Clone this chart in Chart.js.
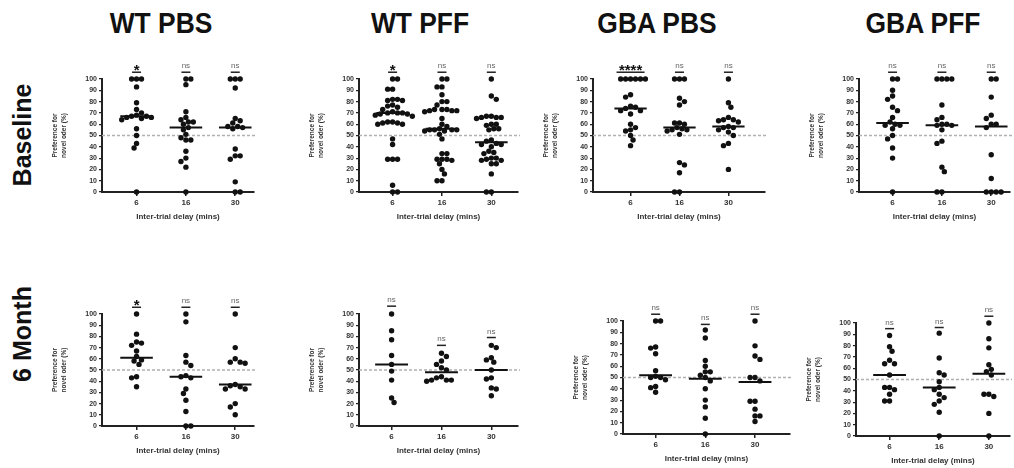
<!DOCTYPE html>
<html>
<head>
<meta charset="utf-8">
<script src="https://cdn.jsdelivr.net/npm/chart.js@4.4.1/dist/chart.umd.min.js"></script>
<style>
  body { margin: 0; background: #fff; width: 1014px; height: 468px; position: relative; overflow: hidden; font-family: 'Liberation Sans', Arial, sans-serif; }
  .col { position: absolute; top: 23px; font-weight: bold; font-size: 29px; line-height: 1; color: #111; white-space: nowrap; transform: translate(-50%, -50%) scaleX(0.91); }
  .row { position: absolute; font-weight: bold; font-size: 25px; line-height: 1; color: #111; white-space: nowrap; transform: translate(-50%, -50%) rotate(-90deg); }
  canvas { position: absolute; }
</style>
</head>
<body>
<div id="root"></div>
<script>
// categories / labels
const categories = ['6', '16', '30'];
const groups = ['WT PBS', 'WT PFF', 'GBA PBS', 'GBA PFF'];
const timepoints = ['Baseline', '6 Month'];

// Baseline values (one list per delay)
const wtPbsBase = [
  [100, 100, 100, 93, 79, 73, 70, 68, 67, 67, 66, 66, 65, 64, 56, 50, 43, 39, 0],
  [100, 100, 95, 71, 66, 64, 62, 62, 60, 57, 55, 51, 48, 46, 46, 36, 30, 27, 22, 0],
  [100, 100, 100, 92, 65, 63, 61, 58, 58, 57, 56, 38, 32, 32, 29, 9, 0, 0]
];
const wtPffBase = [
  [100, 100, 91, 91, 82, 82, 81, 81, 77, 76, 75, 73, 71, 70, 70, 70, 69, 69, 68, 67, 62, 62, 61, 61, 60, 60, 47, 42, 29, 29, 29, 6, 0, 0],
  [100, 100, 93, 93, 86, 80, 80, 77, 73, 73, 73, 72, 72, 72, 71, 65, 60, 58, 56, 55, 55, 55, 55, 54, 54, 51, 47, 34, 34, 29, 29, 29, 28, 25, 20, 16, 10, 10],
  [100, 85, 82, 67, 67, 66, 66, 66, 65, 60, 60, 59, 56, 56, 55, 46, 45, 43, 42, 42, 40, 36, 35, 34, 30, 30, 29, 28, 28, 25, 25, 16, 0, 0]
];
const gbaPbsBase = [
  [100, 100, 100, 100, 100, 100, 86, 84, 76, 75, 74, 72, 72, 69, 60, 57, 55, 54, 50, 46, 41],
  [100, 100, 100, 83, 80, 77, 61, 61, 60, 57, 56, 55, 55, 54, 51, 26, 24, 17, 0, 0],
  [100, 79, 75, 66, 64, 64, 63, 62, 58, 57, 57, 55, 53, 50, 43, 41, 20]
];
const gbaPffBase = [
  [100, 100, 90, 85, 82, 75, 72, 66, 62, 60, 59, 59, 56, 50, 47, 39, 30, 0],
  [100, 100, 100, 100, 77, 66, 64, 60, 60, 59, 59, 55, 45, 43, 22, 18, 0, 0],
  [100, 100, 84, 68, 65, 60, 60, 57, 33, 12, 0, 0, 0, 0]
];

// 6 month values
const wtPbs6m = [
  [100, 82, 75, 74, 72, 67, 62, 59, 58, 55, 44, 43, 35],
  [100, 93, 63, 57, 54, 45, 44, 43, 33, 29, 23, 13, 0, 0],
  [100, 70, 60, 57, 57, 56, 37, 36, 35, 33, 33, 20, 17, 10]
];
const wtPff6m = [
  [100, 85, 77, 63, 55, 49, 41, 25, 21],
  [65, 62, 58, 55, 52, 50, 44, 43, 41, 41, 41, 40],
  [72, 70, 61, 59, 57, 50, 43, 42, 34, 33, 27]
];
const gbaPbs6m = [
  [100, 100, 77, 76, 71, 56, 51, 50, 50, 48, 42, 41, 37],
  [92, 85, 65, 60, 55, 55, 52, 50, 47, 40, 30, 24, 14, 0],
  [100, 78, 69, 66, 50, 50, 47, 29, 29, 22, 16, 16, 11]
];
const gbaPff6m = [
  [89, 79, 75, 67, 64, 64, 54, 43, 43, 41, 37, 31, 31],
  [91, 69, 56, 54, 48, 43, 41, 37, 34, 31, 28, 21, 0],
  [100, 86, 78, 63, 59, 57, 54, 37, 37, 35, 20, 0]
];

// medians (horizontal bars)
const medians = [
  [67, 57, 57], [70, 56, 44], [74, 57, 58], [61, 59, 58],
  [61, 44, 37], [55, 48, 50], [52, 49, 46], [54, 43, 55]
];
// significance labels and the height of their bars
const sigLabels = [
  ['*', 'ns', 'ns'], ['*', 'ns', 'ns'], ['****', 'ns', 'ns'], ['ns', 'ns', 'ns'],
  ['*', 'ns', 'ns'], ['ns', 'ns', 'ns'], ['ns', 'ns', 'ns'], ['ns', 'ns', 'ns']
];
const sigLevels = [
  [106, 106, 106], [106, 106, 106], [106, 106, 106], [106, 106, 106],
  [106, 106, 106], [107, 72, 79], [106, 97, 106], [95, 96, 106]
];
const chance = 50;

const panelData = [wtPbsBase, wtPffBase, gbaPbsBase, gbaPffBase, wtPbs6m, wtPff6m, gbaPbs6m, gbaPff6m];

// where each panel's axes sit on the page
const layouts = [
  { ax: 102, c1: 137, sp: 50, end: 256, top: 79, bot: 192 },
  { ax: 359, c1: 393, sp: 50, end: 520, top: 79, bot: 192 },
  { ax: 593, c1: 631, sp: 49.5, end: 767, top: 79, bot: 192 },
  { ax: 859, c1: 893, sp: 50, end: 1012, top: 79, bot: 192 },
  { ax: 102, c1: 137, sp: 50, end: 256, top: 314, bot: 426 },
  { ax: 359, c1: 392, sp: 50.5, end: 520, top: 314, bot: 426 },
  { ax: 623, c1: 656, sp: 50.3, end: 792, top: 321, bot: 434 },
  { ax: 856, c1: 890, sp: 50.3, end: 1012, top: 323, bot: 436 }
];
const W = 52, H = 30, PT = 26, PR = 2;
const FONT = "'Liberation Sans', Arial, sans-serif";

const root = document.getElementById('root');
const colX = [161, 420, 657, 923];
groups.forEach((g, i) => {
  const d = document.createElement('div');
  d.className = 'col'; d.textContent = g; d.style.left = colX[i] + 'px';
  root.appendChild(d);
});
const rowY = [135, 334];
timepoints.forEach((t, i) => {
  const d = document.createElement('div');
  d.className = 'row'; d.textContent = t; d.style.left = '22px'; d.style.top = rowY[i] + 'px';
  root.appendChild(d);
});

// simple beeswarm so dots with similar values spread sideways
function swarm(vals, cat, pxX, pxY) {
  const dist = 5.0;
  const placed = [];
  vals.slice().sort((a, b) => b - a).forEach(v => {
    let off = null;
    for (let k = 0; k < 30 && off === null; k++) {
      let cands = k === 0 ? [0] : [k, -k];
      const left = placed.filter(p => p.off < 0).length;
      const right = placed.filter(p => p.off > 0).length;
      if (right > left) cands = cands.reverse();
      for (const c of cands) {
        const o = c * dist * 0.5;
        if (placed.every(p => Math.hypot(p.off - o, (p.v - v) * pxY) >= dist)) { off = o; break; }
      }
    }
    placed.push({ v, off });
  });
  return placed.map(p => ({ x: cat + p.off / pxX, y: p.v }));
}

const marksPlugin = {
  id: 'marks',
  beforeDatasetsDraw(chart) {
    const { ctx, chartArea, scales: { y } } = chart;
    const py = y.getPixelForValue(chance);
    ctx.save();
    ctx.strokeStyle = '#b0b0b0';
    ctx.lineWidth = 1.3;
    ctx.setLineDash([3, 2]);
    ctx.beginPath();
    ctx.moveTo(chartArea.left, py);
    ctx.lineTo(chartArea.right + 2, py);
    ctx.stroke();
    ctx.restore();
  },
  afterDatasetsDraw(chart) {
    const { ctx, scales: { x, y } } = chart;
    const idx = chart.options.plugins.marks.idx;
    ctx.save();
    sigLabels[idx].forEach((lab, i) => {
      const cx = x.getPixelForValue(i + 1);
      const by = y.getPixelForValue(sigLevels[idx][i]);
      const half = lab === '****' ? 14 : 4.5;
      ctx.strokeStyle = '#222';
      ctx.lineWidth = 1.5;
      ctx.beginPath();
      ctx.moveTo(cx - half, by);
      ctx.lineTo(cx + half, by);
      ctx.stroke();
      ctx.textAlign = 'center';
      ctx.textBaseline = 'alphabetic';
      if (lab === 'ns') {
        ctx.fillStyle = '#666';
        ctx.font = '8px ' + FONT;
        ctx.fillText(lab, cx, by - 4);
      } else {
        ctx.fillStyle = '#111';
        ctx.font = 'bold 15px ' + FONT;
        ctx.fillText(lab, cx, by + 3);
      }
    });
    ctx.restore();
  }
};

panelData.forEach((vals, idx) => {
  const L = layouts[idx];
  const pxY = (L.bot - L.top) / 100;
  const xMin = 1 - (L.c1 - L.ax) / L.sp;
  const xMax = xMin + (L.end - L.ax) / L.sp;
  const cv = document.createElement('canvas');
  const cw = W + (L.end - L.ax) + PR;
  const ch = PT + (L.bot - L.top) + H;
  cv.width = cw; cv.height = ch;
  cv.style.left = (L.ax - W) + 'px';
  cv.style.top = (L.top - PT) + 'px';
  cv.style.width = cw + 'px'; cv.style.height = ch + 'px';
  root.appendChild(cv);

  const datasets = [];
  vals.forEach((v, i) => {
    datasets.push({
      type: 'scatter',
      data: swarm(v, i + 1, L.sp, pxY),
      pointRadius: 2.7,
      pointBackgroundColor: '#111',
      pointBorderWidth: 0,
      clip: false
    });
    datasets.push({
      type: 'line',
      data: [{ x: i + 1 - 0.33, y: medians[idx][i] }, { x: i + 1 + 0.33, y: medians[idx][i] }],
      borderColor: '#111',
      borderWidth: 2,
      pointRadius: 0,
      clip: false
    });
  });

  new Chart(cv, {
    type: 'scatter',
    data: { datasets },
    options: {
      responsive: false,
      animation: false,
      events: [],
      layout: { padding: { top: PT, right: PR, left: 0, bottom: 0 } },
      plugins: { legend: { display: false }, tooltip: { enabled: false }, marks: { idx } },
      scales: {
        x: {
          type: 'linear',
          min: xMin, max: xMax,
          afterBuildTicks: s => { s.ticks = [1, 2, 3].map(v => ({ value: v })); },
          afterFit: s => { s.height = H; },
          ticks: { autoSkip: false, padding: 2, color: '#333', font: { family: FONT, size: 8, weight: 'bold' },
                   callback: v => categories[v - 1] },
          grid: { drawOnChartArea: false, drawTicks: true, tickLength: 4, color: '#222', lineWidth: 1.5 },
          border: { display: true, color: '#222', width: 2 },
          title: { display: true, text: 'Inter-trial delay (mins)', color: '#333', padding: { top: 2, bottom: 0 },
                   font: { family: FONT, size: 8, weight: 'bold' } }
        },
        y: {
          min: 0, max: 100,
          afterFit: s => { s.width = W; },
          ticks: { stepSize: 10, autoSkip: false, padding: 2, color: '#333', font: { family: FONT, size: 7, weight: 'bold' } },
          grid: { drawOnChartArea: false, drawTicks: true, tickLength: 3, color: '#222', lineWidth: 1.2 },
          border: { display: true, color: '#222', width: 2 },
          title: { display: true, text: ['Preference for', 'novel oder (%)'], color: '#333', padding: { top: 0, bottom: 0 },
                   font: { family: FONT, size: 6.5, weight: 'bold', lineHeight: 1.45 } }
        }
      }
    },
    plugins: [marksPlugin]
  });
});
</script>
</body>
</html>
